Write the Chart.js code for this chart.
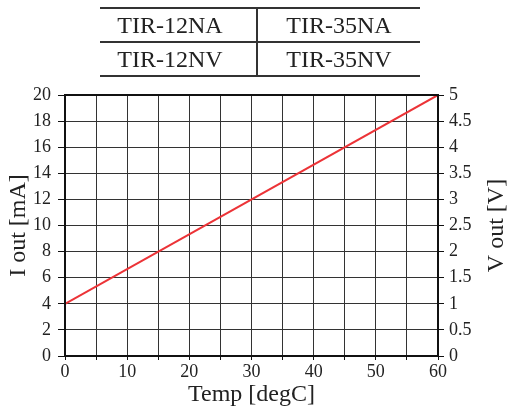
<!DOCTYPE html>
<html>
<head>
<meta charset="utf-8">
<script src="https://cdn.jsdelivr.net/npm/chart.js@4"></script>
<style>
  html, body { margin: 0; padding: 0; background: #fff; }
  #wrap { position: relative; width: 511px; height: 409px; }
  canvas { position: absolute; left: 0; top: 0; }
  table {
    position: absolute; left: 100px; top: 7px; width: 320px;
    border-collapse: collapse; font-family: 'Liberation Serif', 'Times New Roman', Times, serif;
    font-size: 24px; color: #222; table-layout: fixed;
  }
  td {
    height: 32px; padding: 0; text-align: center; line-height: 32px;
    border-top: 2px solid #333; border-bottom: 2px solid #333;
  }
  td:first-child { width: 140px; padding-right: 16px; }
  td + td { border-left: 2px solid #333; }
</style>
</head>
<body>
<div id="wrap">
  <canvas id="chart" width="511" height="409"></canvas>
  <table>
    <tr><td>TIR-12NA</td><td>TIR-35NA</td></tr>
    <tr><td>TIR-12NV</td><td>TIR-35NV</td></tr>
  </table>
</div>
<script>
const temps = [0, 60];
const iOut = [4, 20];

const serif = "'Liberation Serif', 'Times New Roman', Times, serif";
const ink = '#222';

// frame around the plot area, plus the right title read bottom-to-top
const frame = {
    id: 'frame',
    afterDatasetsDraw(chart) {
        const { ctx, chartArea: a } = chart;
        ctx.save();
        ctx.strokeStyle = '#111';
        ctx.lineWidth = 2;
        ctx.strokeRect(a.left, a.top, a.right - a.left, a.bottom - a.top);
        ctx.translate(497, (a.top + a.bottom) / 2);
        ctx.rotate(-Math.PI / 2);
        ctx.fillStyle = ink;
        ctx.font = '24px ' + serif;
        ctx.textAlign = 'center';
        ctx.textBaseline = 'middle';
        ctx.fillText('V out [V]', 0, 0);
        ctx.restore();
    },
};

new Chart(document.getElementById('chart'), {
    type: 'line',
    data: {
        labels: temps,
        datasets: [{
            data: temps.map((t, i) => ({ x: t, y: iOut[i] })),
            borderColor: '#ec3337',
            borderWidth: 2,
            pointRadius: 0,
            tension: 0,
        }],
    },
    options: {
        responsive: false,
        animation: false,
        layout: { padding: { top: 95, left: 0, right: 0, bottom: 0 } },
        plugins: { legend: { display: false }, tooltip: { enabled: false } },
        scales: {
            x: {
                type: 'linear', min: 0, max: 60,
                afterFit(s) { s.height = 53; },
                grid: { color: '#333', lineWidth: 1, tickLength: 4, tickColor: '#111' },
                border: { color: '#111', width: 2 },
                ticks: {
                    stepSize: 5, color: ink, padding: 1, maxRotation: 0,
                    font: { family: serif, size: 18 },
                    callback: (v) => (v % 10 === 0 ? v : ''),
                },
                title: {
                    display: true, text: 'Temp [degC]', color: ink, padding: { top: 0, bottom: 0 },
                    font: { family: serif, size: 24 },
                },
            },
            y: {
                position: 'left', min: 0, max: 20,
                afterFit(s) { s.width = 65; },
                grid: { color: '#333', lineWidth: 1, tickLength: 7, tickColor: '#111' },
                border: { color: '#111', width: 2 },
                ticks: { stepSize: 2, color: ink, padding: 7, font: { family: serif, size: 18 } },
                title: {
                    display: true, text: 'I out [mA]', color: ink, padding: { top: 4, bottom: 0 },
                    font: { family: serif, size: 24 },
                },
            },
            y1: {
                position: 'right', min: 0, max: 5,
                afterFit(s) { s.width = 73; },
                grid: { drawOnChartArea: false, tickLength: 6, tickColor: '#111' },
                border: { color: '#111', width: 2 },
                ticks: {
                    stepSize: 0.5, color: ink, padding: 5, font: { family: serif, size: 18 },
                    callback: (v) => String(v),
                },
            },
        },
    },
    plugins: [frame],
});
</script>
</body>
</html>
